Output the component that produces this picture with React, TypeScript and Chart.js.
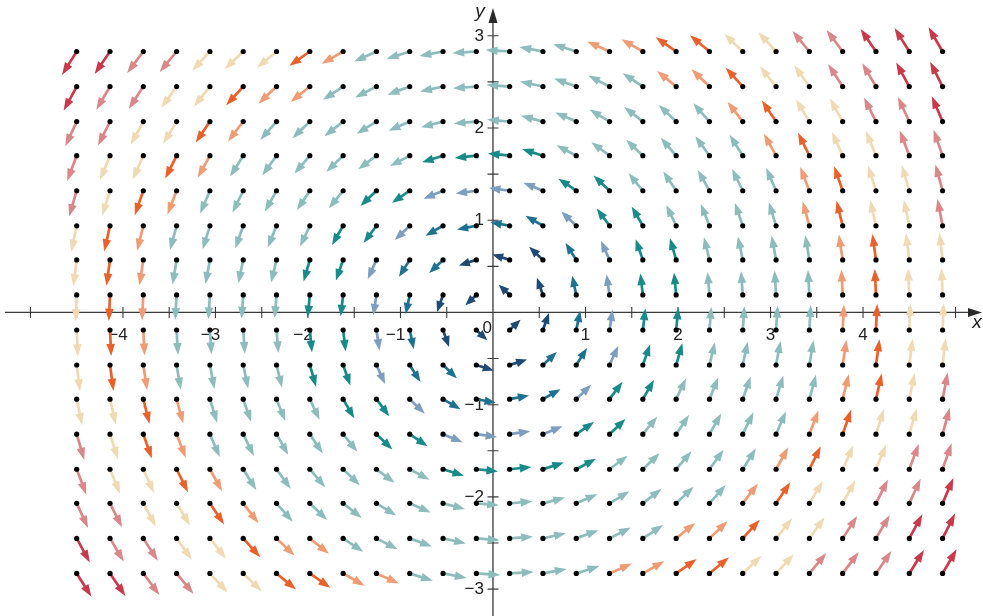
import { useEffect, useRef } from "react";
import { Chart, registerables } from "chart.js";

Chart.register(...registerables);

// grid of sample points
const xs = [-4.5, -4.14, -3.78, -3.42, -3.06, -2.7, -2.34, -1.98, -1.62, -1.26, -0.9, -0.54, -0.18,
  0.18, 0.54, 0.9, 1.26, 1.62, 1.98, 2.34, 2.7, 3.06, 3.42, 3.78, 4.14, 4.5, 4.86];
const ys = [2.83, 2.45, 2.07, 1.7, 1.32, 0.94, 0.57, 0.19, -0.19, -0.57, -0.94, -1.32, -1.7, -2.07, -2.45, -2.83];

// colour code of each arrow, one string per row (top to bottom), one letter per column
const colorRows = [
  "RRPPEEEOSLLLL" + "LLLSSOOEEPPRRR",
  "RPPEEOSSLLLLL" + "LLLLLSSOEEPPRR",
  "PPEEOSLLLLLLL" + "LLLLLLLSOEEPPR",
  "PEEOSLLLLLLTT" + "TTLLLLLLSOEEPP",
  "PEOSLLLLLTTBB" + "BBTTLLLLLSOEEP",
  "EOSLLLLLTTBMM" + "MMBTTLLLLSOEEP",
  "EOSLLLLTTBMMN" + "NNMBTTLLLLSOEE",
  "EOSLLLLTTBMNN" + "NNMBTTLLLLSOEE",
  "EOSLLLLTTBMNN" + "NNMBTTLLLLSOEE",
  "EOSLLLLTTBMMN" + "NMMBTTLLLLSOEE",
  "EEOSLLLLTTBMM" + "MMBTTLLLLLSOEP",
  "PEOSLLLLLTTBB" + "BBTTLLLLLSOEEP",
  "PEEOSLLLLLLTT" + "TTTLLLLLSOEEPP",
  "PPEEOSLLLLLLL" + "LLLLLLLSOEEPPR",
  "RPPEEOSSLLLLL" + "LLLLLSSOEEPPRR",
  "RRPPEEOOSSLLL" + "LLLSSOOEEPPPRR",
];

const palette: Record<string, string> = {
  N: "#1f4a74",
  M: "#1f7192",
  B: "#7d9ebf",
  T: "#188a8a",
  L: "#8dbcbc",
  E: "#efdab4",
  S: "#ef9c74",
  O: "#e8612b",
  P: "#d9878a",
  R: "#c8394b",
};

// the plotted field F(x, y) = <-y, x>
const field = (x: number, y: number): [number, number] => [-y, x];

const xTickLabels = [-4, -3, -2, -1, 1, 2, 3, 4];
const yTickLabels = [-3, -2, -1, 1, 2, 3];
const xTickMarks = [-5, -4.5, -4, -3.5, -3, -2.5, -2, -1.5, -1, -0.5, 0.5, 1, 1.5, 2, 2.5, 3, 3.5, 4, 4.5, 5];
const yTickMarks = [-3, -2.5, -2, -1.5, -1, -0.5, 0.5, 1, 1.5, 2, 2.5, 3];

const W = 983;
const H = 616;
const FONT = "'Liberation Sans', Arial, sans-serif";

export default function App() {
  const ref = useRef<HTMLCanvasElement | null>(null);

  useEffect(() => {
    const canvas = ref.current;
    if (!canvas) return;

    const points: { x: number; y: number }[] = [];
    ys.forEach((y) => xs.forEach((x) => points.push({ x, y })));

    let mMin = Infinity;
    let mMax = 0;
    points.forEach((p) => {
      const [u, v] = field(p.x, p.y);
      const m = Math.hypot(u, v);
      mMin = Math.min(mMin, m);
      mMax = Math.max(mMax, m);
    });

    const drawPlugin = {
      id: "vectorField",
      beforeDatasetsDraw(chart: any) {
        const ctx = chart.ctx as CanvasRenderingContext2D;
        const sx = chart.scales.x;
        const sy = chart.scales.y;
        const ox = sx.getPixelForValue(0);
        const oy = sy.getPixelForValue(0);
        ctx.save();

        // axes
        ctx.strokeStyle = "#3a3a3a";
        ctx.fillStyle = "#2a2a2a";
        ctx.lineWidth = 1.3;
        ctx.beginPath();
        ctx.moveTo(5, oy);
        ctx.lineTo(W - 10, oy);
        ctx.moveTo(ox, H);
        ctx.lineTo(ox, 20);
        ctx.stroke();
        // arrowheads
        ctx.beginPath();
        ctx.moveTo(W - 1, oy);
        ctx.lineTo(W - 15, oy - 4.5);
        ctx.lineTo(W - 15, oy + 4.5);
        ctx.closePath();
        ctx.fill();
        ctx.beginPath();
        ctx.moveTo(ox, 8);
        ctx.lineTo(ox - 4.5, 23);
        ctx.lineTo(ox + 4.5, 23);
        ctx.closePath();
        ctx.fill();

        // tick marks
        ctx.lineWidth = 1.1;
        ctx.beginPath();
        xTickMarks.forEach((t) => {
          const px = sx.getPixelForValue(t);
          ctx.moveTo(px, oy - 5.5);
          ctx.lineTo(px, oy + 5.5);
        });
        yTickMarks.forEach((t) => {
          const py = sy.getPixelForValue(t);
          ctx.moveTo(ox - 5.5, py);
          ctx.lineTo(ox + 5.5, py);
        });
        ctx.stroke();

        // tick labels
        ctx.fillStyle = "#222";
        ctx.font = `17px ${FONT}`;
        const dw = ctx.measureText("4").width;
        ctx.textAlign = "right";
        ctx.textBaseline = "alphabetic";
        xTickLabels.forEach((t) => {
          const px = sx.getPixelForValue(t);
          const s = t < 0 ? "\u2212" + Math.abs(t) : String(t);
          ctx.fillText(s, px + dw / 2, oy + 28);
        });
        ctx.textBaseline = "middle";
        yTickLabels.forEach((t) => {
          const py = sy.getPixelForValue(t);
          const s = t < 0 ? "\u2212" + Math.abs(t) : String(t);
          ctx.fillText(s, ox - 9, py + 0.5);
        });
        ctx.textBaseline = "alphabetic";
        ctx.fillText("0", ox - 1, oy + 21);

        // axis names
        ctx.font = `italic 19px ${FONT}`;
        ctx.textAlign = "center";
        ctx.fillText("y", ox - 13, 17);
        ctx.fillText("x", W - 6, oy + 16);

        // arrows
        points.forEach((p, i) => {
          const r = Math.floor(i / xs.length);
          const c = i % xs.length;
          const [u, v] = field(p.x, p.y);
          const m = Math.hypot(u, v);
          if (m === 0) return;
          const len = 15 + 13 * Math.sqrt((m - mMin) / (mMax - mMin));
          const tx = sx.getPixelForValue(p.x);
          const ty = sy.getPixelForValue(p.y);
          const dx = u / m;
          const dy = -v / m;
          const hx = tx + dx * len;
          const hy = ty + dy * len;
          const headLen = 8 + 0.16 * len;
          const headHalf = 4.3;
          const bx = hx - dx * headLen;
          const by = hy - dy * headLen;
          const col = palette[colorRows[r][c]] || "#888";
          ctx.strokeStyle = col;
          ctx.fillStyle = col;
          ctx.lineWidth = 2.7;
          ctx.lineCap = "butt";
          ctx.beginPath();
          ctx.moveTo(tx, ty);
          ctx.lineTo(bx + dx * 1.5, by + dy * 1.5);
          ctx.stroke();
          ctx.beginPath();
          ctx.moveTo(hx, hy);
          ctx.lineTo(bx - dy * headHalf, by + dx * headHalf);
          ctx.lineTo(bx + dy * headHalf, by - dx * headHalf);
          ctx.closePath();
          ctx.fill();
        });

        ctx.restore();
      },
    };

    const originX = 493;
    const originY = 312.5;
    const unit = 93;

    const chart = new Chart(canvas, {
      type: "scatter",
      data: {
        datasets: [
          {
            data: points,
            pointRadius: 2.6,
            pointHoverRadius: 2.6,
            pointBackgroundColor: "#000",
            pointBorderWidth: 0,
            borderColor: "#000",
          },
        ],
      },
      options: {
        animation: false,
        responsive: false,
        maintainAspectRatio: false,
        events: [],
        layout: { padding: 0 },
        plugins: { legend: { display: false }, tooltip: { enabled: false } },
        scales: {
          x: { type: "linear", display: false, min: -originX / unit, max: (W - originX) / unit },
          y: { type: "linear", display: false, min: -(H - originY) / unit, max: originY / unit },
        },
      },
      plugins: [drawPlugin],
    });

    return () => chart.destroy();
  }, []);

  return (
    <div style={{ position: "absolute", left: 0, top: 0, width: W, height: H, background: "#fff" }}>
      <canvas ref={ref} width={W} height={H} style={{ width: W, height: H, display: "block" }} />
    </div>
  );
}
